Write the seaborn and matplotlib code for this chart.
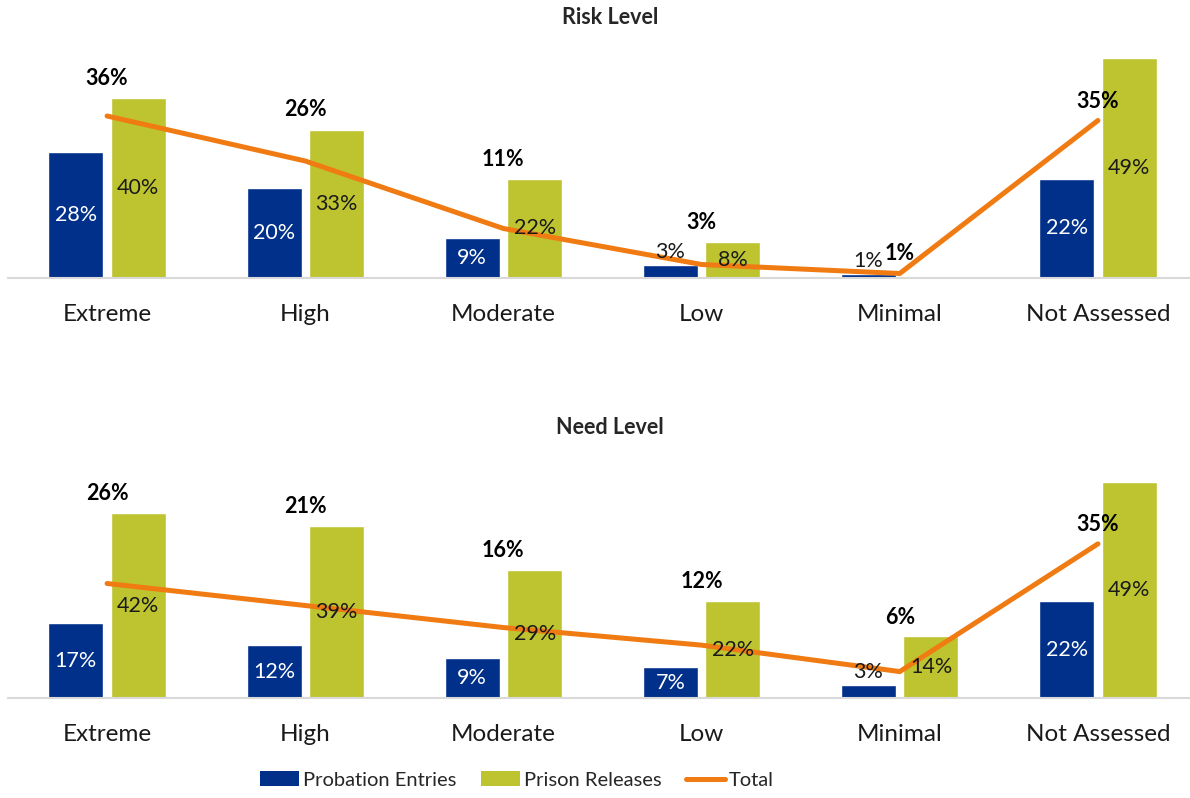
import numpy as np
import pandas as pd
import seaborn as sns
import matplotlib.pyplot as plt
from matplotlib.patches import Patch
from matplotlib.lines import Line2D

# Data (percent of cases)
levels = ['Extreme', 'High', 'Moderate', 'Low', 'Minimal', 'Not Assessed']

risk_probation = [28, 20, 9, 3, 1, 22]
risk_prison = [40, 33, 22, 8, 0, 49]
risk_total = [36, 26, 11, 3, 1, 35]

need_probation = [17, 12, 9, 7, 3, 22]
need_prison = [42, 39, 29, 22, 14, 49]
need_total = [26, 21, 16, 12, 6, 35]

series_names = ['Probation Entries', 'Prison Releases']
total_name = 'Total'

BLUE = '#00308A'
GREEN = '#BDC430'
ORANGE = '#F07B12'

sns.set_style('white')
plt.rcParams['font.family'] = ['Lato', 'DejaVu Sans']

W, H = 1190, 798
fig = plt.figure(figsize=(W / 100, H / 100), dpi=100)


def draw_panel(ax, probation, prison, total, title, title_y):
    '''
    Grouped bars for probation / prison plus the total line.
    '''
    df = pd.DataFrame({
        'Level': levels * 2,
        'Share': probation + prison,
        'Series': [series_names[0]] * len(levels) + [series_names[1]] * len(levels),
    })
    sns.barplot(
        data=df,
        x='Level',
        y='Share',
        hue='Series',
        order=levels,
        hue_order=series_names,
        palette=[BLUE, GREEN],
        saturation=1,
        width=0.63,
        gap=0.12,
        errorbar=None,
        legend=False,
        ax=ax
    )
    sns.lineplot(x=np.arange(len(levels)), y=total, color=ORANGE,
                 linewidth=3.6, sort=False, ax=ax)
    for ln in ax.lines:
        ln.set_solid_capstyle('round')
        ln.set_zorder(4)

    # value labels inside / above the bars
    for bar, v in zip(ax.containers[0], probation):
        x = bar.get_x() + bar.get_width() / 2
        if v >= 5:
            ax.text(x, v / 2, f'{v}%', ha='center', va='center',
                    color='white', fontsize=15.5, zorder=5)
        else:
            ax.text(x, v + 0.6, f'{v}%', ha='center', va='bottom',
                    color='#1a1a1a', fontsize=15.5, zorder=5)
    for bar, v in zip(ax.containers[1], prison):
        if v <= 0:
            continue
        x = bar.get_x() + bar.get_width() / 2
        ax.text(x, v / 2, f'{v}%', ha='center', va='center',
                color='#1a1a1a', fontsize=15.5, zorder=5)

    # total labels in bold
    last = len(levels) - 1
    for i, v in enumerate(total):
        anchor = v if i == last else max(prison[i], v)
        ax.text(i, anchor + 2.0, f'{v}%', ha='center', va='bottom',
                fontweight='bold', fontsize=15.5, color='black', zorder=6)

    ax.set_xlim(-0.5, len(levels) - 0.5)
    ax.set_ylim(0, 52)
    ax.set_yticks([])
    ax.set_xlabel('')
    ax.set_ylabel('')
    ax.tick_params(axis='x', length=0, pad=19, labelsize=17.5, colors='#1a1a1a')
    for side in ['left', 'top', 'right']:
        ax.spines[side].set_visible(False)
    ax.spines['bottom'].set_color('#D9D9D9')
    ax.spines['bottom'].set_linewidth(1.5)
    fig.text(610 / W, 1 - title_y / H, title, ha='center', va='center',
             fontweight='bold', fontsize=15.5)


ax_top = fig.add_axes([8 / W, 1 - 278 / H, 1189 / W, 234 / H])
draw_panel(ax_top, risk_probation, risk_prison, risk_total, 'Risk Level', 18)

ax_bot = fig.add_axes([8 / W, 1 - 698 / H, 1189 / W, 229 / H])
draw_panel(ax_bot, need_probation, need_prison, need_total, 'Need Level', 428)

handles = [
    Patch(facecolor=BLUE, edgecolor='none'),
    Patch(facecolor=GREEN, edgecolor='none'),
    Line2D([0], [0], color=ORANGE, linewidth=3.6, solid_capstyle='round'),
]
fig.legend(handles, series_names + [total_name], loc='center',
           bbox_to_anchor=(517 / W, 1 - 780 / H), ncol=3, frameon=False,
           fontsize=14.5, handlelength=1.95, handletextpad=0.2,
           columnspacing=1.2)

fig.savefig('out.png', dpi=100)
plt.close()
